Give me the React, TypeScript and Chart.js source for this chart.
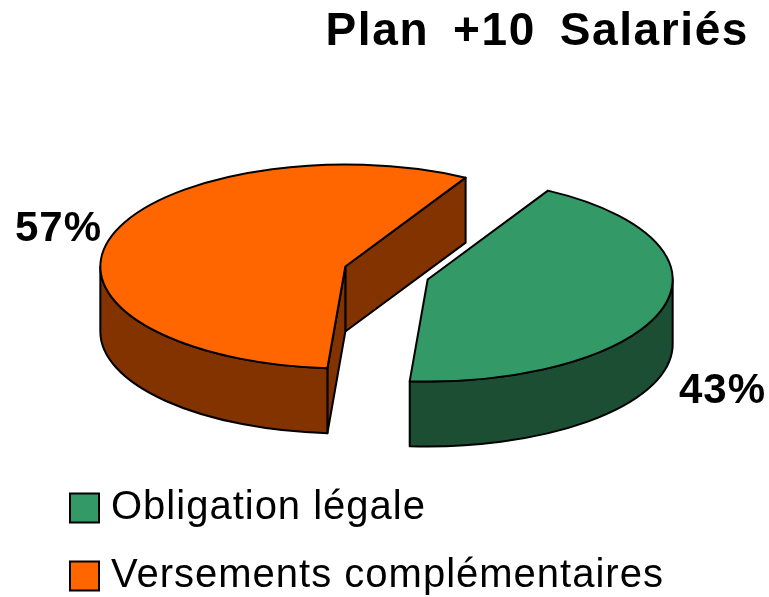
import React, { useEffect, useRef } from "react";
import { Chart, registerables } from "chart.js";

Chart.register(...registerables);

const categories = ["Obligation légale", "Versements complémentaires"];
const values = [43, 57];
const valueLabels = ["43%", "57%"];
const topColors = ["#339966", "#FF6600"];
const wallColors = ["#1C4E34", "#833300"];
const titleText = "Plan +10 Salariés";

const CENTER_X = 386.5;
const CENTER_Y = 273;
const RADIUS_X = 245;
const RADIUS_Y = 102;
const DEPTH = 65;
const EXPLODE = 43;
const EXPLODE_SQUASH = 0.52;
const LINE = 2;
const FONT = '"Liberation Sans", Arial, sans-serif';

function geometry(arc: any) {
  const mid = (arc.startAngle + arc.endAngle) / 2;
  return {
    cx: CENTER_X + Math.cos(mid) * EXPLODE,
    cy: CENTER_Y + Math.sin(mid) * EXPLODE * EXPLODE_SQUASH,
    a0: arc.startAngle,
    a1: arc.endAngle,
    mid,
  };
}

// The visible outer wall of a slice: the part of the rim that faces the viewer.
function rimWall(ctx: CanvasRenderingContext2D, g: any, from: number, to: number) {
  ctx.beginPath();
  ctx.ellipse(g.cx, g.cy, RADIUS_X, RADIUS_Y, 0, from, to);
  ctx.lineTo(g.cx + Math.cos(to) * RADIUS_X, g.cy + Math.sin(to) * RADIUS_Y + DEPTH);
  ctx.ellipse(g.cx, g.cy + DEPTH, RADIUS_X, RADIUS_Y, 0, to, from, true);
  ctx.closePath();
}

function cutWall(ctx: CanvasRenderingContext2D, g: any, a: number) {
  const x = g.cx + Math.cos(a) * RADIUS_X;
  const y = g.cy + Math.sin(a) * RADIUS_Y;
  ctx.beginPath();
  ctx.moveTo(g.cx, g.cy);
  ctx.lineTo(x, y);
  ctx.lineTo(x, y + DEPTH);
  ctx.lineTo(g.cx, g.cy + DEPTH);
  ctx.closePath();
}

function spaced(box: any, letter: string, word: string) {
  const draw = box.draw;
  box.draw = function (...args: any[]) {
    const ctx = box.ctx;
    const prevL = ctx.letterSpacing;
    const prevW = ctx.wordSpacing;
    ctx.letterSpacing = letter;
    ctx.wordSpacing = word;
    draw.apply(box, args);
    ctx.letterSpacing = prevL;
    ctx.wordSpacing = prevW;
  };
}

const pie3d = {
  id: "pie3d",
  beforeDraw(chart: any) {
    if (!chart.$spaced) {
      chart.$spaced = true;
      spaced(chart.titleBlock, "1.6px", "9.5px");
      spaced(chart.legend, "1px", "0px");
    }
  },
  beforeDatasetDraw(chart: any) {
    const ctx: CanvasRenderingContext2D = chart.ctx;
    const arcs = chart.getDatasetMeta(0).data;
    ctx.save();
    ctx.lineWidth = LINE;
    ctx.strokeStyle = "#000";
    ctx.lineJoin = "round";
    // Walls first.
    arcs.forEach((arc: any, i: number) => {
      const g = geometry(arc);
      ctx.fillStyle = wallColors[i];
      // Cut faces are only visible on the slice that opens towards the right.
      if (Math.cos(g.mid) < 0) {
        [g.a1, g.a0].forEach((a) => {
          cutWall(ctx, g, a);
          ctx.fill();
          ctx.stroke();
        });
      }
      const two = Math.PI * 2;
      for (const k of [-1, 0, 1]) {
        const from = Math.max(g.a0, k * two);
        const to = Math.min(g.a1, k * two + Math.PI);
        if (to > from) {
          rimWall(ctx, g, from, to);
          ctx.fill();
          ctx.stroke();
        }
      }
    });
    // Top faces: the library's own arcs, squashed into ellipses and moved apart.
    arcs.forEach((arc: any) => {
      const g = geometry(arc);
      ctx.save();
      ctx.translate(g.cx, g.cy);
      ctx.scale(RADIUS_X / arc.outerRadius, RADIUS_Y / arc.outerRadius);
      ctx.translate(-arc.x, -arc.y);
      arc.draw(ctx);
      ctx.restore();
      ctx.beginPath();
      ctx.moveTo(g.cx, g.cy);
      ctx.ellipse(g.cx, g.cy, RADIUS_X, RADIUS_Y, 0, g.a0, g.a1);
      ctx.closePath();
      ctx.stroke();
    });
    // Value labels
    arcs.forEach((arc: any, i: number) => {
      const g = geometry(arc);
      const k = 1.24;
      const lx = g.cx + Math.cos(g.mid) * RADIUS_X * k + 4;
      const front = Math.sin(g.mid) > 0;
      const ly = g.cy + Math.sin(g.mid) * RADIUS_Y * k + (front ? DEPTH + 10 : -1);
      ctx.fillStyle = "#000";
      (ctx as any).letterSpacing = "1px";
      ctx.font = `bold 42px ${FONT}`;
      ctx.textAlign = "center";
      ctx.textBaseline = "middle";
      ctx.fillText(valueLabels[i], lx, ly);
    });
    ctx.restore();
    return false;
  },
};

export default function App() {
  const ref = useRef<HTMLCanvasElement>(null);
  useEffect(() => {
    document.body.style.margin = "0";
    const generate = (Chart as any).overrides.pie.plugins.legend.labels.generateLabels;
    const chart = new Chart(ref.current as HTMLCanvasElement, {
      type: "pie",
      data: {
        labels: categories,
        datasets: [
          {
            data: values,
            backgroundColor: topColors,
            borderWidth: 0,
          },
        ],
      },
      options: {
        responsive: false,
        animation: false,
        radius: 100,
        rotation: 29.4,
        layout: { padding: { left: 50, right: 20, top: 5, bottom: -9 } },
        events: [],
        plugins: {
          tooltip: { enabled: false },
          title: {
            display: true,
            text: titleText,
            align: "end",
            color: "#000",
            font: { family: FONT, size: 46, weight: "bold" },
            padding: { top: 0, bottom: 20 },
          },
          legend: {
            display: true,
            position: "bottom",
            align: "start",
            labels: {
              color: "#000",
              usePointStyle: true,
              pointStyle: "rect",
              boxWidth: 13,
              boxHeight: 29,
              padding: 28,
              font: { family: FONT, size: 40 },
              generateLabels: (c: any) =>
                generate(c).map((l: any) => ({ ...l, lineWidth: 2, strokeStyle: "#000" })),
            },
          },
        },
      } as any,
      plugins: [pie3d as any],
    });
    return () => chart.destroy();
  }, []);
  return <canvas ref={ref} width={769} height={597} style={{ display: "block" }} />;
}
